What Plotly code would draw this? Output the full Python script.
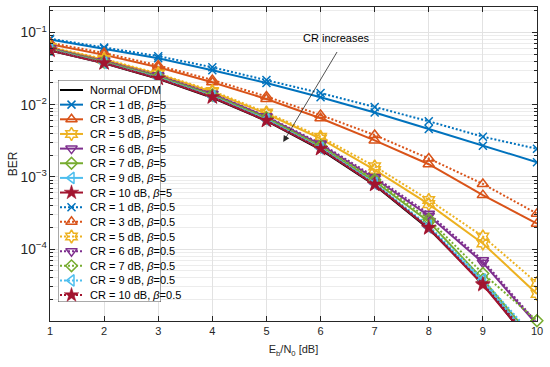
import plotly.graph_objects as go
import math

# ---------------- data ----------------
eb_n0 = [1, 2, 3, 4, 5, 6, 7, 8, 9, 10]

ber_normal = [5.63e-2, 3.75e-2, 2.29e-2, 1.25e-2, 5.95e-3, 2.39e-3, 7.7e-4, 1.91e-4, 3.36e-5, 3.87e-6]

cr1_b5 = [8.0e-2, 6.0e-2, 4.4e-2, 3.0e-2, 2.0e-2, 1.27e-2, 7.8e-3, 4.6e-3, 2.7e-3, 1.6e-3]
cr3_b5 = [6.9e-2, 4.9e-2, 3.3e-2, 2.05e-2, 1.2e-2, 6.5e-3, 3.2e-3, 1.5e-3, 5.6e-4, 2.25e-4]
cr5_b5 = [6.2e-2, 4.2e-2, 2.65e-2, 1.5e-2, 7.5e-3, 3.4e-3, 1.25e-3, 4.2e-4, 1.2e-4, 2.4e-5]
cr6_b5 = [6.0e-2, 4.0e-2, 2.5e-2, 1.4e-2, 6.8e-3, 2.8e-3, 9.5e-4, 2.9e-4, 6.5e-5, 9.0e-6]
cr7_b5 = [5.9e-2, 3.9e-2, 2.45e-2, 1.35e-2, 6.5e-3, 2.6e-3, 8.7e-4, 2.4e-4, 3.8e-5, 5.0e-6]
cr9_b5 = [5.75e-2, 3.8e-2, 2.35e-2, 1.3e-2, 6.2e-3, 2.5e-3, 8.0e-4, 2.0e-4, 3.5e-5, 4.5e-6]
cr10_b5 = [5.65e-2, 3.77e-2, 2.3e-2, 1.27e-2, 6.0e-3, 2.45e-3, 7.8e-4, 1.95e-4, 3.2e-5, 4.0e-6]

cr1_b05 = [8.2e-2, 6.2e-2, 4.7e-2, 3.3e-2, 2.2e-2, 1.45e-2, 9.3e-3, 5.9e-3, 3.6e-3, 2.45e-3]
cr3_b05 = [7.2e-2, 5.2e-2, 3.5e-2, 2.2e-2, 1.3e-2, 7.2e-3, 3.8e-3, 1.8e-3, 8.0e-4, 3.1e-4]
cr5_b05 = [6.3e-2, 4.3e-2, 2.7e-2, 1.55e-2, 7.8e-3, 3.6e-3, 1.4e-3, 4.8e-4, 1.5e-4, 3.4e-5]
cr6_b05 = [6.1e-2, 4.05e-2, 2.55e-2, 1.42e-2, 6.9e-3, 2.9e-3, 1.0e-3, 3.1e-4, 7.0e-5, 9.5e-6]
cr7_b05 = [5.95e-2, 3.95e-2, 2.47e-2, 1.37e-2, 6.6e-3, 2.7e-3, 9.2e-4, 2.6e-4, 4.6e-5, 1.02e-5]
cr9_b05 = [5.8e-2, 3.82e-2, 2.37e-2, 1.31e-2, 6.25e-3, 2.52e-3, 8.2e-4, 2.1e-4, 3.8e-5, 5.5e-6]
cr10_b05 = [5.7e-2, 3.78e-2, 2.32e-2, 1.28e-2, 6.05e-3, 2.46e-3, 7.9e-4, 2.0e-4, 3.3e-5, 4.5e-6]

cr_values = [1, 3, 5, 6, 7, 9, 10]

# arrow annotation (data coords)
arrow_tail = (6.36, 0.063)
arrow_head = (5.31, 3.04e-3)
arrow_label = "CR increases"
arrow_label_pos = (6.29, 0.083)

# ---------------- styles ----------------
colors = ["#0072BD", "#D95319", "#EDB120", "#7E2F8E", "#77AC30", "#4DBEEE", "#A2142F"]
symbols = ["x-thin", "triangle-up-open", "hexagram-open", "triangle-down-open",
           "diamond-open", "triangle-left-open", "star"]
sizes = [8, 10, 10, 10, 9, 10, 11]

b5_sets = [cr1_b5, cr3_b5, cr5_b5, cr6_b5, cr7_b5, cr9_b5, cr10_b5]
b05_sets = [cr1_b05, cr3_b05, cr5_b05, cr6_b05, cr7_b05, cr9_b05, cr10_b05]

series = [("Normal OFDM", ber_normal, "#000000", None, 10, "solid")]
for i, cr in enumerate(cr_values):
    series.append((f"CR = {cr} dB, <i>β</i>=5", b5_sets[i], colors[i], symbols[i], sizes[i], "solid"))
for i, cr in enumerate(cr_values):
    series.append((f"CR = {cr} dB, <i>β</i>=0.5", b05_sets[i], colors[i], symbols[i], sizes[i], "2px,2px"))

FONT = "Liberation Sans, Arial, sans-serif"
AX = "#262626"

fig = go.Figure()


def marker_dict(sym, col, size):
    return dict(symbol=sym, size=size, color=col,
                line=dict(color=col, width=1.5 if sym != "star" else 0.5))


edge_markers = []
for name, vals, col, sym, size, dash in series:
    fig.add_trace(go.Scatter(
        x=eb_n0, y=vals, name=name,
        mode="lines+markers" if sym else "lines",
        line=dict(color=col, width=2, dash=dash),
        marker=marker_dict(sym, col, size) if sym else None,
        showlegend=False,
        xaxis="x", yaxis="y",
    ))
    if vals is cr7_b05:
        edge_markers.append((vals, col, sym, size))

# the marker sitting on the bottom axis edge is drawn unclipped (as in the reference)
for vals, col, sym, size in edge_markers:
    fig.add_trace(go.Scatter(
        x=eb_n0[-1:], y=vals[-1:], mode="markers",
        marker=marker_dict(sym, col, size), cliponaxis=False,
        showlegend=False, hoverinfo="skip", xaxis="x", yaxis="y",
    ))

# ---------------- custom legend (drawn in its own small axes) ----------------
W, H = 550, 367
ml, mr, mt, mb = 50, 13, 7, 46
pw, ph = W - ml - mr, H - mt - mb
leg_l, leg_r, leg_t, leg_b = 58, 161, 80, 302
lw_, lh_ = leg_r - leg_l, leg_b - leg_t
row0, row_gap = 10, 14.65

# opaque white legend background
fig.add_trace(go.Scatter(
    x=[0, lw_, lw_, 0, 0], y=[0, 0, lh_, lh_, 0], mode="lines", fill="toself",
    fillcolor="white", line=dict(color=AX, width=0.8),
    showlegend=False, hoverinfo="skip", xaxis="x2", yaxis="y2", cliponaxis=False,
))

for k, (name, vals, col, sym, size, dash) in enumerate(series):
    yy = row0 + row_gap * k
    fig.add_trace(go.Scatter(
        x=[2, 25], y=[yy, yy], mode="lines",
        line=dict(color=col, width=2, dash=dash),
        showlegend=False, hoverinfo="skip", xaxis="x2", yaxis="y2",
    ))
    if sym:
        fig.add_trace(go.Scatter(
            x=[13.5], y=[yy], mode="markers",
            marker=marker_dict(sym, col, size),
            showlegend=False, hoverinfo="skip", xaxis="x2", yaxis="y2",
        ))
    fig.add_annotation(x=30, y=yy, xref="x2", yref="y2", text=name, showarrow=False,
                       xanchor="left", yanchor="middle",
                       font=dict(family=FONT, size=11, color="#000000"))

# arrow + label
fig.add_annotation(x=arrow_head[0], y=math.log10(arrow_head[1]),
                   ax=arrow_tail[0], ay=math.log10(arrow_tail[1]),
                   xref="x", yref="y", axref="x", ayref="y",
                   showarrow=True, arrowhead=2, arrowsize=1.6, arrowwidth=0.8,
                   arrowcolor="#262626", text=" ")
fig.add_annotation(x=arrow_label_pos[0], y=math.log10(arrow_label_pos[1]),
                   xref="x", yref="y", text=arrow_label, showarrow=False,
                   font=dict(family=FONT, size=11, color="#000000"))

grid = "#E2E2E2"
fig.update_layout(
    width=W, height=H,
    margin=dict(l=ml, r=mr, t=mt, b=mb, autoexpand=False),
    paper_bgcolor="white", plot_bgcolor="white",
    font=dict(family=FONT, size=11, color=AX),
    xaxis=dict(
        range=[1, 10], dtick=1, tick0=1, automargin=False,
        showgrid=True, gridcolor=grid, gridwidth=1,
        ticks="inside", ticklen=5, tickcolor=AX,
        showline=True, linecolor=AX, linewidth=1, mirror="ticks",
        zeroline=False,
        tickfont=dict(family=FONT, size=11, color=AX),
        title=dict(text="E<sub>b</sub>/N<sub>0</sub> [dB]", standoff=9,
                   font=dict(family=FONT, size=11, color=AX)),
    ),
    yaxis=dict(
        type="log", range=[-4.995, -0.647], dtick=1, tick0=0, automargin=False,
        exponentformat="power",
        showgrid=True, gridcolor=grid, gridwidth=1,
        ticks="inside", ticklen=5, tickcolor=AX,
        showline=True, linecolor=AX, linewidth=1, mirror="ticks",
        zeroline=False,
        minor=dict(ticks="inside", ticklen=3, tickcolor=AX, showgrid=True,
                   gridcolor="#ECECEC", gridwidth=1, dtick="D1"),
        tickfont=dict(family=FONT, size=11, color=AX),
        title=dict(text="BER", standoff=0, font=dict(family=FONT, size=12, color=AX)),
    ),
    xaxis2=dict(
        domain=[(leg_l - ml) / pw, (leg_r - ml) / pw], anchor="y2",
        range=[0, lw_], showgrid=False, zeroline=False, automargin=False,
        showticklabels=False, ticks="", tickvals=[], showline=False, fixedrange=True,
    ),
    yaxis2=dict(
        domain=[(mt + ph - leg_b) / ph, (mt + ph - leg_t) / ph], anchor="x2",
        range=[lh_, 0], showgrid=False, zeroline=False, automargin=False,
        showticklabels=False, ticks="", tickvals=[], showline=False, fixedrange=True,
    ),
)

fig.write_html(
    "out.html",
    config={"displayModeBar": False},
    post_script="document.body.style.margin='0';document.body.style.padding='0';",
)
